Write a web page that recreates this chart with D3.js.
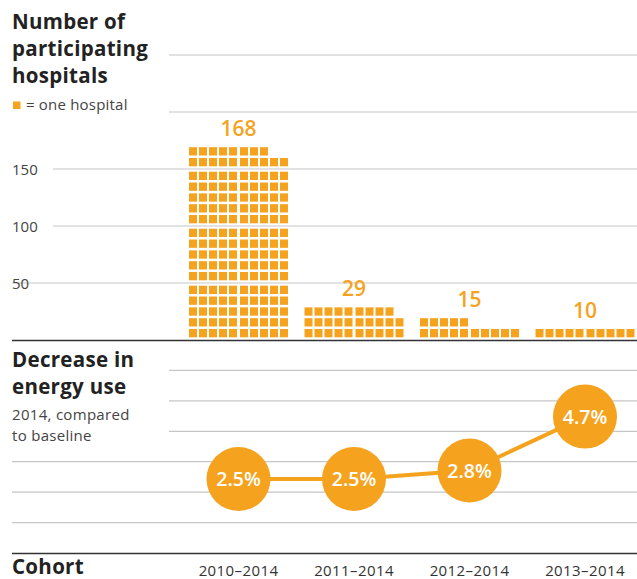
<!DOCTYPE html>
<html>
<head>
<meta charset="utf-8">
<script src="https://cdn.jsdelivr.net/npm/d3@7"></script>
<style>
  body { margin: 0; background: #fff; }
  text { font-family: "Open Sans", sans-serif; }
</style>
</head>
<body>
<svg id="chart" width="637" height="579"></svg>
<script>
var cohorts = ["2010–2014", "2011–2014", "2012–2014", "2013–2014"];
var hospitals = [168, 29, 15, 10]; // one square = one hospital
var energyDecrease = [2.5, 2.5, 2.8, 4.7]; // % vs baseline
var hospitalTicks = [50, 100, 150];
var hospitalGrid = [50, 100, 150, 200, 250];
var energyGrid = [1, 2, 3, 4, 5, 6];

var orange = "#f5a31f";
var dark = "#333";
var grid = "#c6c6c6";

var svg = d3.select("#chart");

var x = d3.scalePoint().domain(cohorts).range([238.5, 585]);
var yTop = d3.scaleLinear().domain([0, 250]).range([340, 55]);
var yGrid = d3.scaleLinear().domain([0, 7]).range([553, 340]);
var yPct = d3.scaleLinear().domain([0, 7.4]).range([550, 340]);

// waffle geometry
var sqW = 8, sqH = 8.3, pad = 2.7;
var blockH = yTop(0) - yTop(50);
var gapY = (blockH - 2 * pad - 5 * sqH) / 4;

function squareX(i, cx) {
	var col = i % 10;
	return cx - 49.5 + col * 10 + (col >= 5 ? 1 : 0);
}
function squareY(i) {
	var row = Math.floor(i / 10);
	var block = Math.floor(row / 5);
	var r = row % 5;
	return yTop(block * 50) - pad - sqH - r * (sqH + gapY);
}

// top gridlines
svg.append("g")
	.selectAll("line")
	.data(hospitalGrid)
	.enter()
	.append("line")
	.attr("x1", function(d){ return d == 50 ? 12 : (d <= 150 ? 53 : 169); })
	.attr("x2", 637)
	.attr("y1", function(d){ return yTop(d); })
	.attr("y2", function(d){ return yTop(d); })
	.attr("stroke", grid)
	.attr("stroke-width", 1.2);

svg.append("g")
	.selectAll("text")
	.data(hospitalTicks)
	.enter()
	.append("text")
	.attr("x", 12)
	.attr("y", function(d){ return yTop(d) + 6; })
	.attr("font-size", 15)
	.attr("fill", "#444")
	.text(function(d){ return d; });

// bottom gridlines
svg.append("g")
	.selectAll("line")
	.data(energyGrid)
	.enter()
	.append("line")
	.attr("x1", function(d){ return d <= 3 ? 12 : 169; })
	.attr("x2", 637)
	.attr("y1", function(d){ return yGrid(d); })
	.attr("y2", function(d){ return yGrid(d); })
	.attr("stroke", grid)
	.attr("stroke-width", 1.2);

// waffle bars
var bars = svg.append("g")
	.selectAll("g")
	.data(cohorts)
	.enter()
	.append("g");

bars.selectAll("rect")
	.data(function(d, i){ return d3.range(hospitals[i]).map(function(k){ return {k: k, c: d}; }); })
	.enter()
	.append("rect")
	.attr("x", function(d){ return squareX(d.k, x(d.c)); })
	.attr("y", function(d){ return squareY(d.k); })
	.attr("width", sqW)
	.attr("height", sqH)
	.attr("fill", orange);

bars.append("text")
	.attr("x", function(d){ return x(d); })
	.attr("y", function(d, i){ return squareY(hospitals[i] - 1) - 11.5; })
	.attr("text-anchor", "middle")
	.attr("font-size", 21)
	.attr("font-weight", 600)
	.attr("fill", orange)
	.text(function(d, i){ return hospitals[i]; });

// dark rules
svg.append("line").attr("x1", 12).attr("x2", 637).attr("y1", 340.5).attr("y2", 340.5)
	.attr("stroke", dark).attr("stroke-width", 1.6);
svg.append("line").attr("x1", 12).attr("x2", 637).attr("y1", 553.5).attr("y2", 553.5)
	.attr("stroke", dark).attr("stroke-width", 1.6);

// energy line + circles
var line = d3.line()
	.x(function(d, i){ return x(cohorts[i]); })
	.y(function(d){ return yPct(d); });

svg.append("path")
	.datum(energyDecrease)
	.attr("d", line)
	.attr("fill", "none")
	.attr("stroke", orange)
	.attr("stroke-width", 4);

var dots = svg.append("g")
	.selectAll("g")
	.data(energyDecrease)
	.enter()
	.append("g")
	.attr("transform", function(d, i){ return "translate(" + x(cohorts[i]) + "," + yPct(d) + ")"; });

dots.append("circle")
	.attr("r", 32)
	.attr("fill", orange);

dots.append("text")
	.attr("y", 7)
	.attr("text-anchor", "middle")
	.attr("font-size", 19.5)
	.attr("font-weight", 600)
	.attr("fill", "#fff")
	.text(function(d){ return d.toFixed(1) + "%"; });

// headings
function heading(lines, y0, lh, size, weight, color, ls) {
	svg.append("g")
		.selectAll("text")
		.data(lines)
		.enter()
		.append("text")
		.attr("x", 12)
		.attr("y", function(d, i){ return y0 + i * lh; })
		.attr("font-size", size)
		.attr("font-weight", weight)
		.attr("letter-spacing", ls)
		.attr("fill", color)
		.text(function(d){ return d; });
}
heading(["Number of", "participating", "hospitals"], 28.5, 27.2, 20.5, 700, "#222", 0.3);
heading(["Decrease in", "energy use"], 367, 27.2, 20.5, 700, "#222", 0.3);
heading(["2014, compared", "to baseline"], 420, 21, 15, 400, "#444", 0.3);
heading(["Cohort"], 573.5, 0, 20.5, 700, "#222", 0.3);

// legend
svg.append("rect").attr("x", 13).attr("y", 101.5).attr("width", 7.5).attr("height", 7.5).attr("fill", orange);
svg.append("text").attr("x", 26).attr("y", 110).attr("font-size", 15).attr("letter-spacing", 0.2)
	.attr("fill", "#444").text("= one hospital");

// cohort labels
svg.append("g")
	.selectAll("text")
	.data(cohorts)
	.enter()
	.append("text")
	.attr("x", function(d){ return x(d); })
	.attr("y", 575.5)
	.attr("text-anchor", "middle")
	.attr("font-size", 15)
	.attr("letter-spacing", 0.4)
	.attr("fill", "#333")
	.text(function(d){ return d; });
</script>
</body>
</html>
